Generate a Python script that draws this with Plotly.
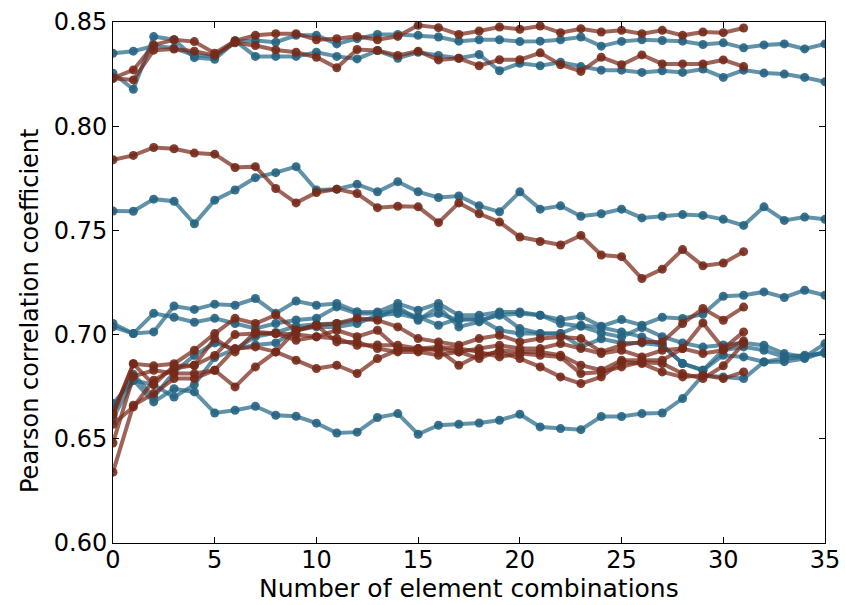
import plotly.graph_objects as go

# x positions
x_blue = list(range(36))
x_red = list(range(32))

# ---- blue series (36 points, x = 0..35) ----
blue_top_a = [0.8350, 0.8360, 0.8385, 0.8375, 0.8340, 0.8335, 0.8410, 0.8335, 0.8335, 0.8335, 0.8355, 0.8335,
              0.8323, 0.8363, 0.8326, 0.8355, 0.8339, 0.8326, 0.8344, 0.8266, 0.8302, 0.8290, 0.8307, 0.8286,
              0.8269, 0.8269, 0.8258, 0.8266, 0.8258, 0.8274, 0.8234, 0.8269, 0.8255, 0.8250, 0.8234, 0.8213]
blue_top_b = [0.8254, 0.8177, 0.8430, 0.8415, 0.8329, 0.8321, 0.8405, 0.8411, 0.8403, 0.8436, 0.8436, 0.8395,
              0.8420, 0.8440, 0.8440, 0.8436, 0.8428, 0.8408, 0.8415, 0.8415, 0.8406, 0.8408, 0.8415, 0.8428,
              0.8384, 0.8407, 0.8415, 0.8411, 0.8408, 0.8392, 0.8400, 0.8376, 0.8390, 0.8395, 0.8371, 0.8395]
blue_mid = [0.7593, 0.7592, 0.7650, 0.7640, 0.7532, 0.7645, 0.7694, 0.7753, 0.7777, 0.7806, 0.7694, 0.7698,
            0.7721, 0.7685, 0.7734, 0.7685, 0.7658, 0.7665, 0.7618, 0.7589, 0.7685, 0.7602, 0.7618, 0.7568,
            0.7580, 0.7602, 0.7560, 0.7568, 0.7576, 0.7572, 0.7553, 0.7524, 0.7613, 0.7548, 0.7564, 0.7553]
blue_low_a = [0.7053, 0.7005, 0.7013, 0.7137, 0.7121, 0.7146, 0.7141, 0.7173, 0.7102, 0.7161, 0.7141, 0.7149,
              0.7110, 0.7109, 0.7149, 0.7117, 0.7149, 0.7093, 0.7093, 0.7109, 0.7109, 0.7093, 0.7072, 0.7088,
              0.7040, 0.7072, 0.7045, 0.7083, 0.7077, 0.7098, 0.7184, 0.7189, 0.7205, 0.7178, 0.7213, 0.7189]
blue_low_b = [0.7037, 0.7005, 0.7102, 0.7083, 0.7059, 0.7078, 0.7053, 0.7029, 0.7053, 0.7070, 0.7078, 0.7133,
              0.7101, 0.7101, 0.7117, 0.7085, 0.7045, 0.7077, 0.7069, 0.7093, 0.7101, 0.7093, 0.7053, 0.7040,
              0.7008, 0.6989, 0.7034, 0.6990, 0.6960, 0.6940, 0.6950, 0.6960, 0.6949, 0.6909, 0.6893, 0.6957]
blue_low_c = [0.6650, 0.6810, 0.6700, 0.6820, 0.6900, 0.6960, 0.6930, 0.6990, 0.7010, 0.7040, 0.7050, 0.7053,
              0.7069, 0.7077, 0.7133, 0.7069, 0.7133, 0.7037, 0.7061, 0.7101, 0.7029, 0.7005, 0.7005, 0.6941,
              0.6980, 0.6960, 0.6960, 0.6949, 0.6861, 0.6829, 0.6901, 0.6893, 0.6869, 0.6870, 0.6885, 0.6917]
blue_low_d = [0.6600, 0.6780, 0.6760, 0.6700, 0.6760, 0.6890, 0.6930, 0.6950, 0.6960, 0.7021, 0.7037, 0.7037,
              0.7053, 0.7093, 0.7101, 0.7077, 0.7101, 0.7069, 0.7077, 0.7021, 0.7005, 0.7005, 0.7005, 0.7045,
              0.7034, 0.7013, 0.6989, 0.6949, 0.6861, 0.6829, 0.6925, 0.6941, 0.6925, 0.6893, 0.6901, 0.6909]
blue_low_e = [0.6669, 0.6781, 0.6677, 0.6740, 0.6725, 0.6624, 0.6637, 0.6656, 0.6613, 0.6608, 0.6575, 0.6528,
              0.6532, 0.6602, 0.6621, 0.6522, 0.6565, 0.6570, 0.6576, 0.6589, 0.6618, 0.6557, 0.6549, 0.6544,
              0.6607, 0.6607, 0.6621, 0.6624, 0.6693, 0.6805, 0.6797, 0.6789, 0.6869, 0.6885, 0.6893, 0.6917]

# ---- red series (32 points, x = 0..31) ----
red_top_a = [0.8230, 0.8270, 0.8390, 0.8415, 0.8406, 0.8350, 0.8410, 0.8436, 0.8444, 0.8444, 0.8415, 0.8420,
             0.8431, 0.8415, 0.8431, 0.8484, 0.8473, 0.8440, 0.8457, 0.8476, 0.8465, 0.8481, 0.8449, 0.8468,
             0.8452, 0.8460, 0.8444, 0.8460, 0.8436, 0.8452, 0.8449, 0.8471]
red_top_b = [0.8230, 0.8222, 0.8365, 0.8370, 0.8360, 0.8340, 0.8400, 0.8387, 0.8366, 0.8355, 0.8331, 0.8280,
             0.8368, 0.8363, 0.8339, 0.8360, 0.8318, 0.8326, 0.8290, 0.8319, 0.8319, 0.8352, 0.8295, 0.8263,
             0.8331, 0.8295, 0.8342, 0.8299, 0.8299, 0.8299, 0.8318, 0.8286]
red_mid = [0.7839, 0.7860, 0.7898, 0.7892, 0.7871, 0.7866, 0.7802, 0.7806, 0.7701, 0.7632, 0.7682, 0.7698,
           0.7677, 0.7609, 0.7616, 0.7613, 0.7537, 0.7632, 0.7580, 0.7540, 0.7468, 0.7447, 0.7430, 0.7476,
           0.7382, 0.7374, 0.7269, 0.7314, 0.7408, 0.7330, 0.7343, 0.7398]
red_low_a = [0.6620, 0.6860, 0.6850, 0.6860, 0.6925, 0.7005, 0.7078, 0.7053, 0.7094, 0.7021, 0.7045, 0.7053,
             0.7078, 0.7069, 0.7037, 0.6981, 0.6965, 0.6949, 0.6981, 0.6997, 0.6965, 0.6981, 0.6989, 0.6981,
             0.6917, 0.6949, 0.6965, 0.6965, 0.7053, 0.7125, 0.7069, 0.7132]
red_low_b = [0.6570, 0.6653, 0.6781, 0.6837, 0.6853, 0.6981, 0.6917, 0.7013, 0.7005, 0.6973, 0.6989, 0.7021,
             0.6990, 0.7021, 0.6933, 0.6925, 0.6933, 0.6917, 0.6933, 0.6949, 0.6933, 0.6933, 0.6957, 0.6933,
             0.6909, 0.6925, 0.6893, 0.6925, 0.6933, 0.7056, 0.6933, 0.7013]
red_low_c = [0.6480, 0.6800, 0.6829, 0.6813, 0.6813, 0.6829, 0.6933, 0.6941, 0.6917, 0.7021, 0.7045, 0.6965,
             0.6965, 0.6933, 0.6917, 0.6917, 0.6901, 0.6917, 0.6885, 0.6925, 0.6917, 0.6917, 0.6901, 0.6853,
             0.6829, 0.6877, 0.6877, 0.6877, 0.6933, 0.6909, 0.6925, 0.6970]
red_low_d = [0.6340, 0.6661, 0.6717, 0.6789, 0.6789, 0.6829, 0.6749, 0.6845, 0.6917, 0.6877, 0.6837, 0.6853,
             0.6813, 0.6885, 0.6925, 0.6933, 0.6925, 0.6853, 0.6901, 0.6917, 0.6885, 0.6845, 0.6797, 0.6765,
             0.6797, 0.6869, 0.6861, 0.6821, 0.6797, 0.6805, 0.6789, 0.6821]
red_low_e = [0.6613, 0.6860, 0.6760, 0.6850, 0.6853, 0.6900, 0.7000, 0.7005, 0.7005, 0.7000, 0.6990, 0.6981,
             0.6949, 0.6950, 0.6949, 0.6933, 0.6941, 0.6933, 0.6917, 0.6893, 0.6909, 0.6901, 0.6893, 0.6813,
             0.6821, 0.6845, 0.6869, 0.6861, 0.6813, 0.6789, 0.6850, 0.6957]

blue_series = [blue_top_a, blue_top_b, blue_mid, blue_low_a, blue_low_b, blue_low_c, blue_low_d, blue_low_e]
red_series = [red_top_a, red_top_b, red_mid, red_low_a, red_low_b, red_low_c, red_low_d, red_low_e]

x_ticks = [0, 5, 10, 15, 20, 25, 30, 35]
y_ticks = [0.60, 0.65, 0.70, 0.75, 0.80, 0.85]
x_title = "Number of element combinations"
y_title = "Pearson correlation coefficient"

BLUE_LINE = "rgba(38,104,135,0.72)"
BLUE_MARK = "rgba(38,100,130,0.9)"
RED_LINE = "rgba(120,40,25,0.72)"
RED_MARK = "rgba(118,42,26,0.9)"

fig = go.Figure()
for ys in blue_series:
    fig.add_trace(go.Scatter(x=x_blue, y=ys, mode="lines+markers",
                             line=dict(color=BLUE_LINE, width=4),
                             marker=dict(color=BLUE_MARK, size=9),
                             showlegend=False, hoverinfo="skip"))
for ys in red_series:
    fig.add_trace(go.Scatter(x=x_red, y=ys, mode="lines+markers",
                             line=dict(color=RED_LINE, width=4),
                             marker=dict(color=RED_MARK, size=9),
                             showlegend=False, hoverinfo="skip"))

font_family = "DejaVu Sans"
# plot area: top 22 px, bottom 543 px (height 521)
fig.update_layout(
    width=845, height=605,
    margin=dict(l=113, r=20, t=22, b=62),
    paper_bgcolor="white", plot_bgcolor="white",
    font=dict(family=font_family, size=24, color="black"),
    xaxis=dict(range=[0, 35], tickvals=x_ticks, ticktext=[str(v) for v in x_ticks],
               automargin=False, ticklabelstandoff=-5,
               showline=True, mirror="ticks", linecolor="black", linewidth=1,
               ticks="inside", ticklen=6, tickcolor="black", showgrid=False, zeroline=False,
               tickfont=dict(family=font_family, size=24)),
    yaxis=dict(range=[0.60, 0.85], tickvals=y_ticks, ticktext=[f"{v:.2f}" for v in y_ticks],
               automargin=False,
               showline=True, mirror="ticks", linecolor="black", linewidth=1,
               ticks="inside", ticklen=6, tickcolor="black", showgrid=False, zeroline=False,
               tickfont=dict(family=font_family, size=24)),
    annotations=[
        dict(text=x_title, xref="paper", yref="paper", x=0.5, y=-45 / 521,
             xanchor="center", yanchor="middle", showarrow=False,
             font=dict(family=font_family, size=25, color="black")),
        dict(text=y_title, xref="paper", yref="paper", x=-83 / 712, y=(543 - 311) / 521,
             xanchor="center", yanchor="middle", textangle=-90, showarrow=False,
             font=dict(family=font_family, size=24, color="black")),
    ],
)

fig.write_html("out.html")
